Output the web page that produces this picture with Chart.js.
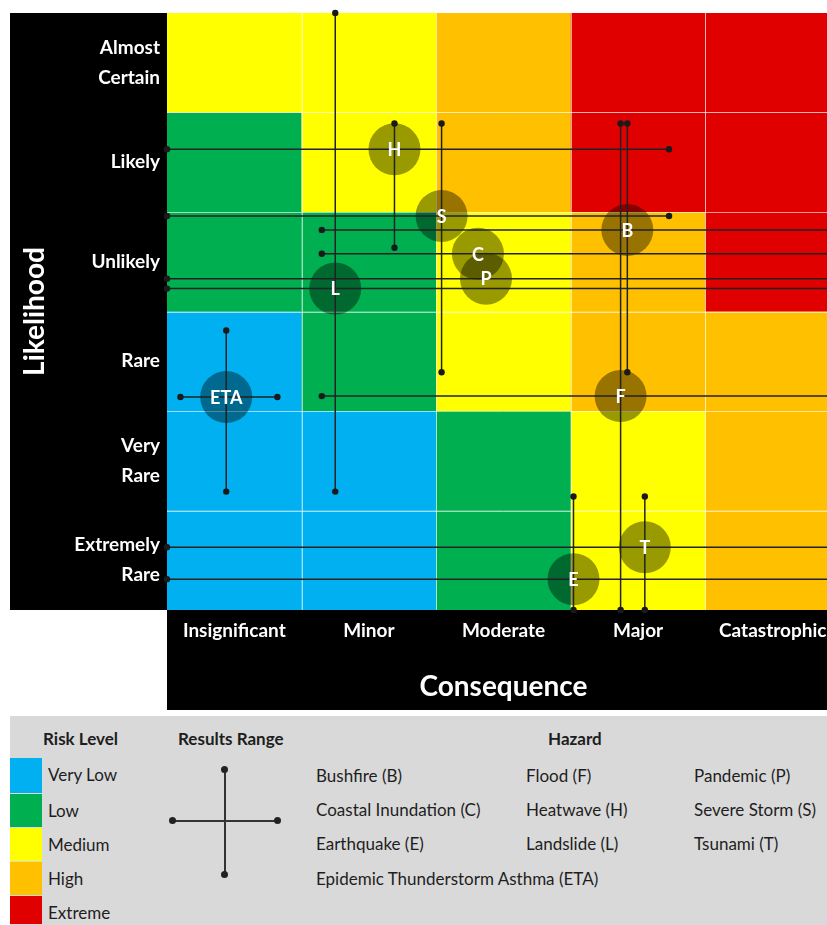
<!DOCTYPE html>
<html>
<head>
<meta charset="utf-8">
<script src="https://cdn.jsdelivr.net/npm/chart.js@4.4.1/dist/chart.umd.min.js"></script>
<style>
  html, body { margin: 0; padding: 0; background: #fff; }
  #page { position: relative; width: 827px; height: 925px; overflow: hidden; font-family: Lato, "Open Sans", sans-serif; }
  #plot { position: absolute; left: 0; top: 0; width: 840px; height: 712px; }
  #legend { position: absolute; left: 10px; top: 716px; width: 817px; height: 209px; background: #d9d9d9; color: #1e1e1e; }
  #legend .h { position: absolute; font-weight: bold; font-size: 17px; line-height: 20px; }
  #legend .t { position: absolute; font-size: 17px; line-height: 20px; white-space: nowrap; }
  #legend .sw { position: absolute; left: 0; width: 32px; }
  .ln { position: absolute; background: #333; }
  .dot { position: absolute; width: 7px; height: 7px; border-radius: 50%; background: #222; }
</style>
</head>
<body>
<div id="page">
  <div id="plot"><canvas id="c-risk" width="840" height="712"></canvas></div>
  <div id="legend"></div>
</div>
<script>
// axis categories
const consequenceLabels = ['Insignificant', 'Minor', 'Moderate', 'Major', 'Catastrophic'];
const likelihoodLabels = [['Extremely', 'Rare'], ['Very', 'Rare'], 'Rare', 'Unlikely', 'Likely', ['Almost', 'Certain']];

// risk levels and the matrix (rows bottom -> top, cols left -> right)
const riskLevels = ['Very Low', 'Low', 'Medium', 'High', 'Extreme'];
const riskColors = ['#00b0f0', '#00b050', '#ffff00', '#ffc000', '#e00000'];
const riskMatrix = [
    [0, 0, 1, 2, 3],
    [0, 0, 1, 2, 3],
    [0, 1, 2, 3, 3],
    [1, 1, 2, 3, 4],
    [1, 2, 3, 4, 4],
    [2, 2, 3, 4, 4]
];

// hazards: best estimate and results range
const hazardCodes = ['B', 'C', 'E', 'ETA', 'F', 'H', 'L', 'P', 'S', 'T'];
const hazardNames = ['Bushfire', 'Coastal Inundation', 'Earthquake', 'Epidemic Thunderstorm Asthma', 'Flood', 'Heatwave', 'Landslide', 'Pandemic', 'Severe Storm', 'Tsunami'];
const consequenceScore = [3.42, 2.31, 3.02, 0.44, 3.37, 1.69, 1.25, 2.37, 2.04, 3.55];
const likelihoodScore  = [3.82, 3.58, 0.31, 2.14, 2.15, 4.63, 3.23, 3.33, 3.96, 0.63];
const consequenceLow   = [1.15, 1.15, 0.00, 0.10, 1.15, 0.00, 0.00, 0.00, 0.00, 0.00];
const consequenceHigh  = [5.00, 5.00, 5.00, 0.82, 5.00, 3.73, 5.00, 5.00, 3.73, 5.00];
const likelihoodLow    = [2.39, 3.58, 0.00, 1.19, 0.00, 3.64, 1.19, 3.33, 2.39, 0.00];
const likelihoodHigh   = [4.89, 3.58, 1.14, 2.81, 4.89, 4.89, 6.00, 3.33, 4.89, 1.14];

const xTicks = [0.5, 1.5, 2.5, 3.5, 4.5];
const yTicks = [0.5, 1.5, 2.5, 3.5, 4.5, 5.5];

document.addEventListener('DOMContentLoaded', () => {
    renderRiskChart();
    buildLegend();
});

// black panels behind the axes + coloured cells
const matrixBackground = {
    id: 'matrixBackground',
    beforeDraw(chart) {
        const { ctx, chartArea: a, scales: { x, y } } = chart;
        ctx.save();
        ctx.fillStyle = '#000';
        ctx.fillRect(y.left, a.top, a.left - y.left, a.bottom - a.top);
        ctx.fillRect(a.left, a.bottom, a.right - a.left, x.bottom - a.bottom);

        riskMatrix.forEach((row, r) => {
            row.forEach((lvl, c) => {
                const x0 = x.getPixelForValue(c), x1 = x.getPixelForValue(c + 1);
                const y0 = y.getPixelForValue(r + 1), y1 = y.getPixelForValue(r);
                ctx.fillStyle = riskColors[lvl];
                ctx.fillRect(x0, y0, x1 - x0, y1 - y0);
            });
        });
        // thin cell borders
        ctx.strokeStyle = 'rgba(255,255,255,0.6)';
        ctx.lineWidth = 1;
        ctx.beginPath();
        for (let c = 1; c < consequenceLabels.length; c++) {
            const px = Math.round(x.getPixelForValue(c)) + 0.5;
            ctx.moveTo(px, a.top); ctx.lineTo(px, a.bottom);
        }
        for (let r = 1; r < likelihoodLabels.length; r++) {
            const py = Math.round(y.getPixelForValue(r)) + 0.5;
            ctx.moveTo(a.left, py); ctx.lineTo(a.right, py);
        }
        ctx.stroke();
        ctx.restore();
    }
};

// results range whiskers and hazard letters
const resultsRange = {
    id: 'resultsRange',
    afterDatasetsDraw(chart) {
        const { ctx, scales: { x, y } } = chart;
        const dot = (px, py) => { ctx.beginPath(); ctx.arc(px, py, 3.2, 0, Math.PI * 2); ctx.fill(); };
        ctx.save();
        ctx.strokeStyle = '#222';
        ctx.fillStyle = '#1a1a1a';
        ctx.lineWidth = 1.5;
        hazardCodes.forEach((code, i) => {
            const cx = x.getPixelForValue(consequenceScore[i]);
            const cy = y.getPixelForValue(likelihoodScore[i]);
            const xl = x.getPixelForValue(consequenceLow[i]), xh = x.getPixelForValue(consequenceHigh[i]);
            ctx.beginPath(); ctx.moveTo(xl, cy); ctx.lineTo(xh, cy); ctx.stroke();
            dot(xl, cy); dot(xh, cy);
            if (likelihoodHigh[i] !== likelihoodLow[i]) {
                const yl = y.getPixelForValue(likelihoodLow[i]), yh = y.getPixelForValue(likelihoodHigh[i]);
                ctx.beginPath(); ctx.moveTo(cx, yl); ctx.lineTo(cx, yh); ctx.stroke();
                dot(cx, yl); dot(cx, yh);
            }
        });
        ctx.fillStyle = '#fff';
        ctx.font = 'bold 18px Lato, "Open Sans", sans-serif';
        ctx.textAlign = 'center';
        ctx.textBaseline = 'middle';
        hazardCodes.forEach((code, i) => {
            ctx.fillText(code, x.getPixelForValue(consequenceScore[i]), y.getPixelForValue(likelihoodScore[i]) + 1);
        });
        ctx.restore();
    }
};

// keep the plot box fixed: no extra room for overhanging tick labels
function noPad(s) {
    s.paddingTop = 0; s.paddingBottom = 0; s.paddingLeft = 0; s.paddingRight = 0;
}

function renderRiskChart() {
    const tickFont = { family: 'Lato, "Open Sans", sans-serif', size: 19, weight: 'bold', lineHeight: 1.58 };
    const titleFont = { family: 'Lato, "Open Sans", sans-serif', size: 28, weight: 'bold' };
    new Chart(document.getElementById('c-risk'), {
        type: 'scatter',
        data: {
            datasets: [{
                data: hazardCodes.map((c, i) => ({ x: consequenceScore[i], y: likelihoodScore[i] })),
                pointRadius: 26,
                pointHoverRadius: 26,
                backgroundColor: 'rgba(0,0,0,0.4)',
                borderWidth: 0,
                clip: false
            }]
        },
        options: {
            responsive: false,
            animation: false,
            events: [],
            layout: { autoPadding: false, padding: { left: 10, top: 13, right: 0, bottom: 2 } },
            plugins: { legend: { display: false }, tooltip: { enabled: false } },
            scales: {
                x: {
                    type: 'linear', min: 0, max: 5,
                    afterBuildTicks: s => { s.ticks = xTicks.map(v => ({ value: v })); },
                    afterFit: s => { s.height = 100; noPad(s); },
                    ticks: { color: '#fff', font: tickFont, padding: 6, autoSkip: false, maxRotation: 0,
                        callback: (v, i) => consequenceLabels[i] },
                    grid: { display: false, drawTicks: false },
                    border: { display: false },
                    title: { display: true, text: 'Consequence', color: '#fff', font: titleFont, padding: { bottom: 6 } }
                },
                y: {
                    type: 'linear', min: 0, max: 6,
                    afterBuildTicks: s => { s.ticks = yTicks.map(v => ({ value: v })); },
                    afterFit: s => { s.width = 157; noPad(s); },
                    ticks: { color: '#fff', font: tickFont, padding: 7, autoSkip: false,
                        callback: (v, i) => likelihoodLabels[i] },
                    grid: { display: false, drawTicks: false },
                    border: { display: false },
                    title: { display: true, text: 'Likelihood', color: '#fff', font: titleFont, padding: { top: 8 } }
                }
            }
        },
        plugins: [matrixBackground, resultsRange]
    });
}

function buildLegend() {
    const lg = document.getElementById('legend');
    const add = (cls, css, text) => {
        const d = document.createElement('div');
        d.className = cls;
        Object.assign(d.style, css);
        if (text) d.textContent = text;
        lg.appendChild(d);
    };
    // offsets relative to the legend box (left 10, top 716)
    add('h', { left: '33px', top: '13px' }, 'Risk Level');
    add('h', { left: '168px', top: '13px' }, 'Results Range');
    add('h', { left: '538px', top: '13px' }, 'Hazard');

    const swTop = [42, 78, 112, 146, 180];
    riskLevels.forEach((lvl, i) => {
        const h = (i < riskLevels.length - 1 ? swTop[i + 1] : 209) - swTop[i] - 1;
        add('sw', { top: swTop[i] + 'px', height: h + 'px', background: riskColors[i] });
        add('t', { left: '38px', top: (swTop[i] + 7) + 'px' }, lvl);
    });

    // results range cross
    add('ln', { left: '214px', top: '53px', width: '1.6px', height: '106px' });
    add('ln', { left: '162px', top: '104px', width: '106px', height: '1.6px' });
    add('dot', { left: '211px', top: '50px' });
    add('dot', { left: '211px', top: '155px' });
    add('dot', { left: '159px', top: '101px' });
    add('dot', { left: '264px', top: '101px' });

    // hazard names, three columns, alphabetical down the columns
    const colX = [306, 516, 684];
    const rowY = [50, 84, 118, 153];
    const order = ['B', 'C', 'E', 'ETA', 'F', 'H', 'L', 'P', 'S', 'T'];
    const perCol = [4, 3, 3];
    let k = 0;
    perCol.forEach((n, c) => {
        for (let r = 0; r < n; r++, k++) {
            const i = hazardCodes.indexOf(order[k]);
            add('t', { left: colX[c] + 'px', top: rowY[r] + 'px' }, `${hazardNames[i]} (${hazardCodes[i]})`);
        }
    });
}
</script>
</body>
</html>
